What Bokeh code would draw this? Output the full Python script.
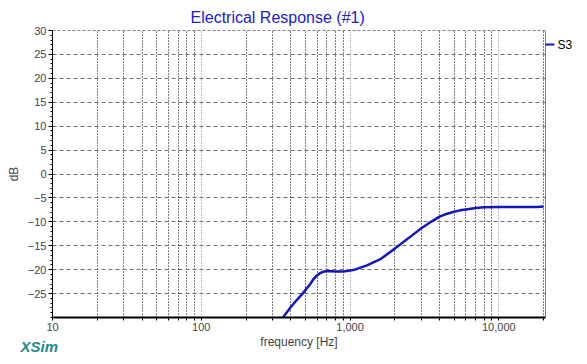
from bokeh.plotting import figure
from bokeh.models import (Range1d, FixedTicker, NumeralTickFormatter, Span, Title,
                          LinearAxis)
from bokeh.embed import file_html
from bokeh.resources import INLINE

# ---- data ----
freq_hz = [350, 400, 440, 483, 540, 570, 600, 630, 660, 700, 800, 900, 1000, 1100,
           1300, 1600, 2000, 2500, 3000, 3500, 4000, 4500, 5000, 5500, 6000, 7000,
           8000, 10000, 12000, 15000, 18000, 20000]
db_s3 = [-30.2, -27.8, -26.3, -24.9, -23.0, -21.9, -21.2, -20.7, -20.45, -20.3,
         -20.4, -20.4, -20.2, -19.9, -19.1, -17.8, -15.6, -13.3, -11.4, -10.0,
         -8.9, -8.3, -7.9, -7.6, -7.4, -7.1, -6.95, -6.9, -6.9, -6.9, -6.9, -6.8]
x_major = [10, 100, 1000, 10000]
x_minor = [20, 30, 40, 50, 60, 70, 80, 90, 200, 300, 400, 500, 600, 700, 800, 900,
           2000, 3000, 4000, 5000, 6000, 7000, 8000, 9000, 20000]
y_major = [-25, -20, -15, -10, -5, 0, 5, 10, 15, 20, 25, 30]
y_minor = list(range(-30, 31))
title_text = "Electrical Response (#1)"
series_name = "S3"
legend_key_db = 27  # height of the series key beside the plot

FONT = "Liberation Sans"
BLUE = "#1414C0"

p = figure(width=587, height=364, x_axis_type="log", output_backend="svg",
           toolbar_location=None, x_range=Range1d(10, 20600), y_range=Range1d(-30, 30),
           min_border_left=52, min_border_right=42, min_border_top=30, min_border_bottom=47)
p.outline_line_color = None
p.background_fill_color = "white"
p.border_fill_color = "white"

# title
p.title.text = title_text
p.title.align = "left"
p.title.offset = 138
p.title.standoff = 10
p.title.text_font = FONT
p.title.text_font_size = "16px"
p.title.text_font_style = "normal"
p.title.text_color = "#2020C8"

# axes
xa = p.xaxis[0]
xa.ticker = FixedTicker(ticks=x_major, minor_ticks=x_minor)
xa.formatter = NumeralTickFormatter(format="0,0")
xa.axis_line_width = 2
xa.axis_line_color = "black"
xa.major_tick_in = 0
xa.major_tick_out = 3
xa.minor_tick_in = 0
xa.minor_tick_out = 3
xa.major_label_standoff = 2
xa.major_label_text_font = FONT
xa.major_label_text_font_size = "11px"
xa.axis_label = "frequency [Hz]"
xa.axis_label_text_font = FONT
xa.axis_label_text_font_size = "12px"
xa.axis_label_text_font_style = "normal"
xa.axis_label_standoff = 1

ya = p.yaxis[0]
ya.ticker = FixedTicker(ticks=y_major, minor_ticks=y_minor)
ya.axis_line_color = "black"
ya.major_tick_in = 0
ya.major_tick_out = 4
ya.minor_tick_in = 0
ya.minor_tick_out = 2
ya.major_label_standoff = 2
ya.major_label_text_font = FONT
ya.major_label_text_font_size = "11px"
ya.axis_label = "dB"
ya.axis_label_text_font = FONT
ya.axis_label_text_font_size = "12px"
ya.axis_label_text_font_style = "normal"
ya.axis_label_standoff = 4

# series key on the right (drawn as an axis tick + label)
key_axis = LinearAxis(ticker=FixedTicker(ticks=[legend_key_db]),
                      major_label_overrides={legend_key_db: series_name},
                      axis_line_color=None, major_tick_in=0, major_tick_out=9,
                      major_tick_line_color=BLUE, major_tick_line_width=2,
                      minor_tick_line_color=None, major_label_standoff=3,
                      major_label_text_font=FONT, major_label_text_font_size="12px",
                      major_label_text_color="black")
p.add_layout(key_axis, "right")

# grids
p.xgrid.grid_line_color = "#808080"
p.xgrid.grid_line_dash = "1 2"
p.xgrid.minor_grid_line_color = "black"
p.xgrid.minor_grid_line_dash = "1 2"
p.ygrid.grid_line_color = "#707070"
p.ygrid.grid_line_dash = "4 3"

# frame borders
p.add_layout(Span(location=30, dimension="width", line_color="black", line_dash="3 2", line_width=1))
p.add_layout(Span(location=20600, dimension="height", line_color="black", line_width=1))

# curve
p.line(freq_hz, db_s3, line_color=BLUE, line_width=2.5)

p.add_layout(Title(text="XSim", align="left", offset=-32, standoff=-28,
                   vertical_align="top", text_font=FONT, text_font_size="15px",
                   text_font_style="bold italic", text_color="#1F8A8A"), "below")

open("out.html", "w").write(file_html(p, INLINE))
